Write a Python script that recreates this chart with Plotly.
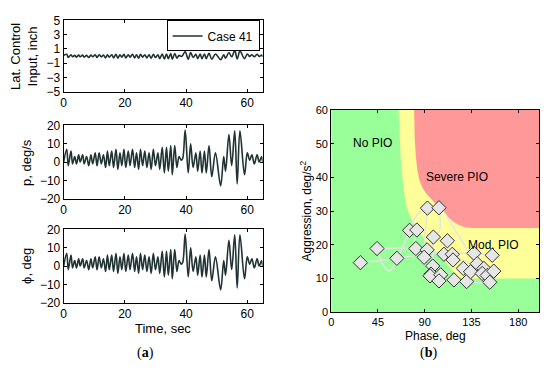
import plotly.graph_objects as go

# ---------------- time histories (a) ----------------
t_ext = [0.0, 1.0, 1.5, 2.4, 2.9, 3.6, 4.2, 4.9, 5.4, 6.2, 6.7, 7.5, 8.2, 8.9, 9.5, 10.3, 10.9, 11.6, 12.3, 13.0,
         13.7, 14.3, 14.9, 15.7, 16.3, 17.1, 17.7, 18.4, 19.0, 19.7, 20.3, 21.1, 21.7, 22.5, 23.2, 23.8, 24.5, 25.1,
         25.8, 26.5, 27.2, 27.9, 28.6, 29.3, 30.0, 30.8, 31.4, 32.2, 32.9, 33.6, 34.2, 35.0, 35.5, 36.3, 37.0, 37.7,
         38.4, 38.9, 39.7, 40.7, 41.5, 42.3, 43.2, 43.8, 44.6, 45.2, 46.0, 46.6, 47.5, 48.4, 49.6, 51.3, 52.3, 52.9,
         54.0, 54.9, 55.9, 56.7, 57.6, 59.1, 60.0, 60.8, 61.5, 62.3, 63.2, 63.9, 64.7, 65.0]
p_vals = [0, 7, -2, 6, -1, 3, -1, 4, 0, 4, -1, 3, -2, 4, -1, 5, -2, 5, -1, 4, -3, 6, -2, 6, -3, 7, -4, 5, -2, 7,
          -3, 6, -2, 7, -3, 5, -4, 7, -2, 6, -3, 5, -4, 7, -2, 5, -4, 8, -6, 8, -5, 9, -7, 9, -3, 3, 1, 2, 17.5, -6,
          10, -3, 5, -5, 6, -6, 6, -6, 9, -8, 5, -13, 3, -5, 15, -2, 17, -12, 17, -7, 5, 1, 4, -1, 4, 0, 3, 0]
phi_vals = [0, 7, -2, 6, -1, 3, -1, 4, 0, 4, -1, 3, -2, 4, -1, 5, -2, 5, -1, 4, -3, 6, -2, 6, -3, 7, -4, 5, -2, 7,
            -3, 6, -2, 7, -3, 5, -4, 7, -2, 6, -3, 5, -4, 7, -2, 5, -4, 8, -6, 8, -5, 9, -7, 9, -3, 3, 1, 2, 17.5, -6,
            10, -3, 5, -5, 6, -6, 6, -6, 9, -8, 5, -13, 3, -5, 14, -2, 17, -12, 17, -7, 5, 1, 4, -1, 4, 0, 3, 0]
lat_vals = [0.1, 0.25, -0.2, 0.2, -0.1, 0.1, -0.15, 0.15, -0.1, 0.15,
            -0.15, 0.1, -0.2, 0.15, -0.1, 0.2, -0.2, 0.2, -0.1, 0.15,
            -0.25, 0.2, -0.15, 0.2, -0.25, 0.25, -0.3, 0.2, -0.15, 0.25,
            -0.25, 0.2, -0.15, 0.25, -0.25, 0.2, -0.3, 0.25, -0.15, 0.2,
            -0.25, 0.2, -0.3, 0.25, -0.2, 0.2, -0.35, 0.3, -0.4, 0.3,
            -0.35, 0.35, -0.45, 0.35, -0.3, 0.1, -0.05, 0.1, 0.65, -0.45,
            0.5, -0.2, 0.25, -0.35, 0.3, -0.35, 0.3, -0.35, 0.4, -0.45,
            0.3, -0.5, 0.2, -0.3, 0.5, -0.1, 0.8, -0.4, 0.7, -0.35,
            0.3, -0.05, 0.2, -0.1, 0.25, -0.05, 0.15, -0.1]
time_ticks = [0, 20, 40, 60]
lat_ticks = [-5, -3, -1, 1, 3, 5]
rate_ticks = [-20, -10, 0, 10, 20]
series_name = "Case 41"

# ---------------- PIO boundary chart (b) ----------------
yellow_phase = [64.8, 66, 67, 68.5, 70, 72, 75, 79, 84, 90, 97, 104, 110, 115, 119, 123, 127, 200, 200]
yellow_aggr = [60, 52, 45, 40, 35.5, 32, 29, 26.5, 24, 21.5, 19, 17, 15, 13, 11.5, 10.4, 10, 10, 60]
red_phase = [79.8, 80.3, 81.5, 83, 85, 88, 92, 97, 102, 107, 112, 117, 122, 128, 135, 200, 200]
red_aggr = [60, 52, 46, 42, 39, 36.8, 35, 33.3, 31.7, 29.9, 28.3, 27, 26, 25.3, 25, 25, 60]
pt_phase = [28.1, 44.1, 63.2, 75.4, 82.4, 81.4, 92.6, 103.7, 98.3, 111.8, 92.3, 89.4, 108.5, 116.5, 117.2,
            97.7, 96.0, 95.1, 105.4, 103.7, 118.1, 127.1, 130.3, 134.1, 137.3, 140.5, 146.9, 145.3, 150.1,
            152.6, 154.9, 156.4]
pt_aggr = [14.7, 18.9, 16.0, 24.3, 24.4, 18.9, 30.9, 31.0, 22.3, 21.2, 18.5, 16.3, 17.2, 17.2, 15.5,
           13.7, 11.3, 10.8, 11.1, 9.3, 9.6, 13.0, 9.1, 12.0, 17.5, 14.4, 13.0, 11.5, 10.9,
           8.9, 16.9, 12.2]
path_phase = [[28.1, 63.2, 95, 117.2, 137.3, 154.9],
              [44.1, 81.4, 108.5, 130, 150.1],
              [44.1, 50, 56, 63.2, 72, 75.4, 83, 92.6, 103.7, 122, 140, 152.6],
              [103.7, 104, 98.3, 97.7, 95.1],
              [82.4, 81.4, 89.4, 108, 130.3, 152.6],
              [92.6, 90, 89.4]]
path_aggr = [[14.7, 16.0, 17.5, 17.5, 17.5, 16.9],
             [18.9, 18.9, 17.2, 15, 10.9],
             [18.9, 14, 12.2, 16.0, 21.5, 24.3, 29, 30.9, 31.0, 23, 14, 8.9],
             [31.0, 24, 22.3, 13.7, 10.8],
             [24.4, 18.9, 16.3, 12, 9.1, 8.9],
             [30.9, 22, 16.3]]
region_labels = ["No PIO", "Severe PIO", "Mod. PIO"]
label_phase = [40, 121, 156]
label_aggr = [49.8, 39.9, 19.6]
phase_ticks = [0, 45, 90, 135, 180]
aggr_ticks = [0, 10, 20, 30, 40, 50, 60]

W, H = 550, 377
FONT = "Liberation Sans, Arial, sans-serif"
SERIF = "Liberation Serif, DejaVu Serif, serif"
LINE = "#203232"

def px(x):
    return x / W

def py(y):
    return 1 - y / H

fig = go.Figure()

# left panels
for vals, xa, ya, show in [(lat_vals, "x", "y", True), (p_vals, "x2", "y2", False), (phi_vals, "x3", "y3", False)]:
    fig.add_trace(go.Scatter(x=t_ext, y=vals, mode="lines",
                             line=dict(color=LINE, width=1.6, shape="spline", smoothing=1.0),
                             name=series_name, xaxis=xa, yaxis=ya, showlegend=show))

# right panel regions
fig.add_trace(go.Scatter(x=[0, 200, 200, 0, 0], y=[0, 0, 60, 60, 0], mode="lines", fill="toself",
                         fillcolor="#99FF99", line=dict(width=0), xaxis="x4", yaxis="y4",
                         showlegend=False, hoverinfo="skip"))
fig.add_trace(go.Scatter(x=yellow_phase, y=yellow_aggr, mode="lines", fill="toself", fillcolor="#FFFF99",
                         line=dict(width=0), xaxis="x4", yaxis="y4", showlegend=False, hoverinfo="skip"))
fig.add_trace(go.Scatter(x=red_phase, y=red_aggr, mode="lines", fill="toself", fillcolor="#FF9999",
                         line=dict(width=0), xaxis="x4", yaxis="y4", showlegend=False, hoverinfo="skip"))
for xs, ys in zip(path_phase, path_aggr):
    fig.add_trace(go.Scatter(x=xs, y=ys, mode="lines",
                             line=dict(color="#e4e4e4", width=1.5, shape="spline", smoothing=1.1),
                             xaxis="x4", yaxis="y4", showlegend=False, hoverinfo="skip"))
fig.add_trace(go.Scatter(x=pt_phase, y=pt_aggr, mode="markers",
                         marker=dict(symbol="diamond", size=11, color="#e6e6e6", line=dict(color="#333333", width=1)),
                         xaxis="x4", yaxis="y4", showlegend=False))
fig.add_trace(go.Scatter(x=label_phase, y=label_aggr, mode="text", text=region_labels,
                         textfont=dict(family=FONT, size=12, color="black"), xaxis="x4", yaxis="y4",
                         showlegend=False))

axis_common = dict(showline=True, linecolor="black", linewidth=1, mirror="ticks", ticks="inside", ticklen=3,
                   tickcolor="black", showgrid=False, zeroline=False,
                   tickfont=dict(family=FONT, size=12, color="black"))
axis_right = dict(axis_common, tickfont=dict(family=FONT, size=11, color="black"))

dom_lx = [px(61), px(261)]
fig.update_layout(
    width=W, height=H, autosize=False, margin=dict(l=0, r=0, t=0, b=0),
    paper_bgcolor="white", plot_bgcolor="white",
    xaxis=dict(domain=dom_lx, range=[0, 65], tickvals=time_ticks, anchor="y", **axis_common),
    yaxis=dict(domain=[py(88), py(14)], range=[-5, 5], tickvals=lat_ticks, anchor="x", **axis_common),
    xaxis2=dict(domain=dom_lx, range=[0, 65], tickvals=time_ticks, anchor="y2", **axis_common),
    yaxis2=dict(domain=[py(199), py(123)], range=[-20, 20], tickvals=rate_ticks, anchor="x2", **axis_common),
    xaxis3=dict(domain=dom_lx, range=[0, 65], tickvals=time_ticks, anchor="y3", **axis_common),
    yaxis3=dict(domain=[py(307), py(231)], range=[-20, 20], tickvals=rate_ticks, anchor="x3", **axis_common),
    xaxis4=dict(domain=[px(330), px(539)], range=[0, 200], tickvals=phase_ticks, anchor="y4", **axis_right),
    yaxis4=dict(domain=[py(317), py(107)], range=[0, 60], tickvals=aggr_ticks, anchor="x4", **axis_right),
    showlegend=True,
    legend=dict(x=px(258), y=py(14), xanchor="right", yanchor="top", bordercolor="black", borderwidth=1,
                bgcolor="white", font=dict(family=FONT, size=12, color="black"), itemwidth=30,
                tracegroupgap=0),
)

def ann(text, x, y, size=12, angle=0, family=FONT):
    fig.add_annotation(text=text, x=px(x), y=py(y), xref="paper", yref="paper", showarrow=False,
                       textangle=angle, font=dict(family=family, size=size, color="black"),
                       xanchor="center", yanchor="middle")

ann("Lat. Control<br>Input, inch", 21, 51, 13, -90)
ann("p, deg/s", 23, 161, 13, -90)
ann("ϕ, deg", 23, 269, 13, -90)
ann("Time, sec", 161, 334, 13)
ann("Phase, deg", 435, 342, 12)
ann("Aggression, deg/s<sup>2</sup>", 305, 212, 12, -90)
ann("(<b>a</b>)", 143, 359, 14, 0, SERIF)
ann("(<b>b</b>)", 428, 359, 14, 0, SERIF)

fig.write_html("out.html", config={"displayModeBar": False},
               post_script="document.body.style.margin='0';document.body.style.padding='0';")
